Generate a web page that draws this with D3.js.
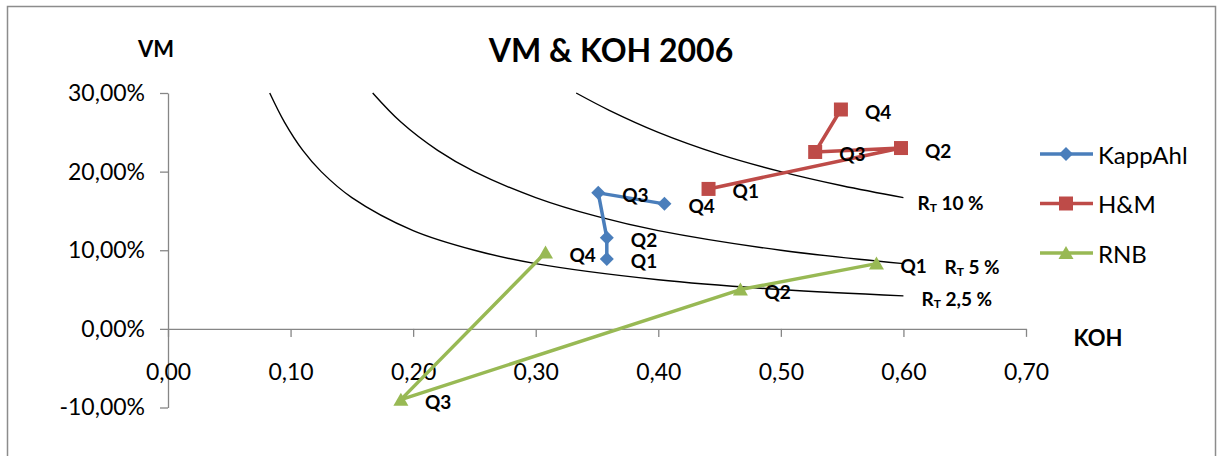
<!DOCTYPE html>
<html>
<head>
<meta charset="utf-8">
<script src="https://cdn.jsdelivr.net/npm/d3@7"></script>
<style>
    body { margin: 0; background: #fff; }
    text { font-family: Lato, "Open Sans", sans-serif; fill: #000; }
</style>
</head>
<body>
<svg id="chart" width="1217" height="456"></svg>
<script>
// Data ----------------------------------------------------------------------
var quarters = ["Q1", "Q2", "Q3", "Q4"];

var kappahlKoh = [0.358, 0.358, 0.351, 0.405];
var kappahlVm = [8.9, 11.6, 17.3, 15.9];

var hmKoh = [0.441, 0.598, 0.528, 0.549];
var hmVm = [17.8, 23.0, 22.5, 27.9];

var rnbKoh = [0.578, 0.467, 0.190, 0.308];
var rnbVm = [8.3, 5.0, -9.0, 9.7];

// iso-return curves (RT = VM x KOH)
var rt10Koh = [0.333, 0.36, 0.40, 0.45, 0.50, 0.55, 0.60];
var rt10Vm = [30.0, 27.8, 25.0, 22.2, 20.0, 18.2, 16.7];
var rt5Koh = [0.167, 0.19, 0.22, 0.25, 0.30, 0.35, 0.40, 0.50, 0.60];
var rt5Vm = [30.0, 26.3, 22.7, 20.0, 16.7, 14.3, 12.5, 10.0, 8.3];
var rt25Koh = [0.083, 0.095, 0.11, 0.125, 0.15, 0.20, 0.25, 0.30, 0.40, 0.50, 0.60];
var rt25Vm = [30.0, 26.3, 22.7, 20.0, 16.7, 12.5, 10.0, 8.3, 6.25, 5.0, 4.2];

var xTicks = [0, 0.1, 0.2, 0.3, 0.4, 0.5, 0.6, 0.7];
var yTicks = [-10, 0, 10, 20, 30];

var seriesNames = ["KappAhl", "H&M", "RNB"];
var seriesColors = ["#4a7ebb", "#be4b48", "#98b954"];
var seriesShapes = ["diamond", "square", "triangle"];

// Build series ---------------------------------------------------------------
function zipSeries(kohs, vms) {
    return kohs.map(function(k, i) {
        return { koh: k, vm: vms[i], q: quarters[i] };
    });
}
var series = [
    zipSeries(kappahlKoh, kappahlVm),
    zipSeries(hmKoh, hmVm),
    zipSeries(rnbKoh, rnbVm)
];
var curves = [
    { label: " 10 %", pts: zipSeries(rt10Koh, rt10Vm), dx: 14, dy: 4 },
    { label: " 5 %", pts: zipSeries(rt5Koh, rt5Vm), dx: 41, dy: 2 },
    { label: " 2,5 %", pts: zipSeries(rt25Koh, rt25Vm), dx: 18, dy: 2 }
];

var svg = d3.select("#chart");

// chart border
svg.append("rect")
    .attr("x", 7.5).attr("y", 6.5)
    .attr("width", 1208).attr("height", 470)
    .attr("fill", "none")
    .attr("stroke", "#8c8c8c")
    .attr("stroke-width", 1.5);

// Scales ---------------------------------------------------------------------
var x = d3.scaleLinear().domain([0, 0.7]).range([168, 1026]);
var y = d3.scaleLinear().domain([-10, 30]).range([407.5, 93]);

var loc = d3.formatLocale({ decimal: ",", thousands: " ", grouping: [3], currency: ["", ""], minus: "-" });
var f2 = loc.format(".2f");

// Axes -----------------------------------------------------------------------
var axisColor = "#868686";

var gy = svg.append("g")
    .attr("transform", "translate(168,0)")
    .call(d3.axisLeft(y)
        .tickValues(yTicks)
        .tickSize(8)
        .tickSizeOuter(0)
        .tickPadding(15)
        .tickFormat(function(d) { return f2(d) + "%"; }));

var gx = svg.append("g")
    .attr("transform", "translate(0," + y(0) + ")")
    .call(d3.axisBottom(x)
        .tickValues(xTicks)
        .tickSize(8)
        .tickSizeOuter(0)
        .tickFormat(f2));

gx.selectAll("text").attr("y", 51).attr("dy", 0);

[gx, gy].forEach(function(g) {
    g.select(".domain").attr("stroke", axisColor).attr("stroke-width", 1.3);
    g.selectAll(".tick line").attr("stroke", axisColor).attr("stroke-width", 1.3);
    g.selectAll("text")
        .attr("fill", "#000")
        .style("font-family", "Lato, 'Open Sans', sans-serif")
        .style("font-size", "23px");
});

// Titles ---------------------------------------------------------------------
svg.append("text")
    .attr("x", 611).attr("y", 62)
    .attr("text-anchor", "middle")
    .style("font-size", "32px").style("font-weight", "bold")
    .text("VM & KOH 2006");

svg.append("text")
    .attr("x", 156).attr("y", 57)
    .attr("text-anchor", "middle")
    .style("font-size", "22px").style("font-weight", "bold")
    .text("VM");

svg.append("text")
    .attr("x", 1098).attr("y", 346)
    .attr("text-anchor", "middle")
    .style("font-size", "22px").style("font-weight", "bold")
    .text("KOH");

// Iso-return curves -----------------------------------------------------------
var curveLine = d3.line()
    .x(function(d) { return x(d.koh); })
    .y(function(d) { return y(d.vm); })
    .curve(d3.curveCatmullRom);

curves.forEach(function(c) {
    svg.append("path")
        .datum(c.pts)
        .attr("d", curveLine)
        .attr("fill", "none")
        .attr("stroke", "#000")
        .attr("stroke-width", 1.4);

    var last = c.pts[c.pts.length - 1];
    var t = svg.append("text")
        .attr("x", x(last.koh) + c.dx)
        .attr("y", y(last.vm) + c.dy)
        .attr("dominant-baseline", "central")
        .style("font-size", "19px").style("font-weight", "bold");
    t.append("tspan").text("R");
    t.append("tspan").attr("dy", 5).style("font-size", "12px").text("T");
    t.append("tspan").attr("dy", -5).text(c.label);
});

// Markers --------------------------------------------------------------------
function markerPath(shape) {
    if (shape === "diamond") return "M0,-7L7,0L0,7L-7,0Z";
    if (shape === "square") return "M-7,-7H7V7H-7Z";
    return "M0,-7L7.5,6L-7.5,6Z";
}

var seriesLine = d3.line()
    .x(function(d) { return x(d.koh); })
    .y(function(d) { return y(d.vm); });

series.forEach(function(s, i) {
    svg.append("path")
        .datum(s)
        .attr("d", seriesLine)
        .attr("fill", "none")
        .attr("stroke", seriesColors[i])
        .attr("stroke-width", 3.5)
        .attr("stroke-linejoin", "round");

    svg.selectAll(".m" + i)
        .data(s)
        .enter().append("path")
        .attr("class", "m" + i)
        .attr("transform", function(d) { return "translate(" + x(d.koh) + "," + y(d.vm) + ")"; })
        .attr("d", markerPath(seriesShapes[i]))
        .attr("fill", seriesColors[i]);
});

// Data labels (drawn on top)
series.forEach(function(s, i) {
    svg.selectAll(".l" + i)
        .data(s)
        .enter().append("text")
        .attr("class", "l" + i)
        .attr("x", function(d) { return x(d.koh) + 24; })
        .attr("y", function(d) { return y(d.vm) + 2; })
        .attr("dominant-baseline", "central")
        .style("font-size", "19px").style("font-weight", "bold")
        .text(function(d) { return d.q; });
});

// Legend ---------------------------------------------------------------------
var legend = svg.append("g");
seriesNames.forEach(function(name, i) {
    var ly = 154 + i * 49.5;
    legend.append("line")
        .attr("x1", 1040).attr("x2", 1093)
        .attr("y1", ly).attr("y2", ly)
        .attr("stroke", seriesColors[i])
        .attr("stroke-width", 3.5);
    legend.append("path")
        .attr("transform", "translate(1066," + ly + ")")
        .attr("d", markerPath(seriesShapes[i]))
        .attr("fill", seriesColors[i]);
    legend.append("text")
        .attr("x", 1098).attr("y", ly)
        .attr("dominant-baseline", "central")
        .style("font-size", "24px")
        .text(name);
});
</script>
</body>
</html>
